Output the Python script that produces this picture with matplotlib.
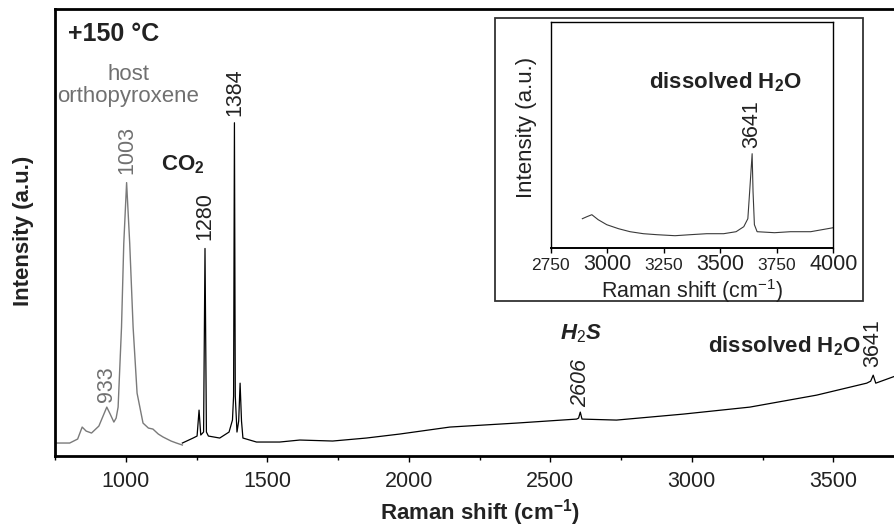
import matplotlib
matplotlib.use("Agg")
import matplotlib.pyplot as plt
from matplotlib.patches import Rectangle

plt.rcParams["font.family"] = ["Liberation Sans", "DejaVu Sans"]
plt.rcParams["mathtext.fontset"] = "custom"
plt.rcParams["mathtext.rm"] = "Liberation Sans"
plt.rcParams["mathtext.it"] = "Liberation Sans:italic"
plt.rcParams["mathtext.bf"] = "Liberation Sans:bold"

# host orthopyroxene part of the spectrum (grey)
wn_host = [749, 802, 830, 846, 860, 879, 905, 933, 945, 958, 966, 973, 985, 993,
           1003, 1014, 1026, 1040, 1061, 1080, 1096, 1115, 1132, 1160, 1179, 1200]
int_host = [13, 13, 17, 29, 25, 23, 30, 49, 42, 34, 38, 49, 129, 213,
            274, 213, 129, 63, 33, 28, 27, 22, 19, 15, 13, 11]

# fluid inclusion part (black)
wn_fluid = [1200, 1238, 1252, 1259, 1265, 1275, 1280, 1285, 1292, 1332, 1365, 1377,
            1381, 1384, 1387, 1393, 1399, 1404, 1409, 1414, 1462, 1544, 1615, 1731,
            1850, 1968, 2145, 2381, 2593, 2600, 2606, 2612, 2734, 2970, 3205, 3441,
            3618, 3632, 3641, 3650, 3718]
int_fluid = [13, 18, 20, 46, 21, 24, 208, 24, 20, 18, 24, 36,
             60, 334, 60, 24, 35, 73, 35, 18, 14, 14, 16, 15,
             18, 22, 29, 33, 37, 38, 44, 37, 36, 42, 49, 61,
             73, 75, 81, 73, 80]

# inset: OH stretching region
wn_inset = [2890, 2910, 2932, 2960, 2998, 3050, 3101, 3160, 3220, 3300, 3367, 3440,
            3515, 3570, 3604, 3622, 3630, 3641, 3645, 3651, 3663, 3740, 3811, 3900, 4000]
int_inset = [29, 31, 33, 28, 23, 19, 16, 14, 13, 12, 13, 14,
             14, 16, 21, 29, 56, 94, 56, 23, 16, 15, 16, 16, 20]

host_peaks = [933, 1003]
fluid_peaks = [1280, 1384, 2606, 3641]
inset_ticks = [2750, 3000, 3250, 3500, 3750, 4000]

grey = "#707070"

fig = plt.figure(figsize=(8.95, 5.28), dpi=100)
ax = fig.add_axes([55 / 895, 1 - 456 / 528, 840 / 895, 447 / 528])

ax.plot(wn_host, int_host, color="#7a7a7a", lw=1.0)
ax.plot(wn_fluid, int_fluid, color="black", lw=0.9)
ax.set_xlim(750, 3718)
ax.set_ylim(0, 448)

ax.spines["right"].set_visible(False)
for s in ["top", "left", "bottom"]:
    ax.spines[s].set_linewidth(2)
ax.set_yticks([])
ax.set_xticks([1000, 1500, 2000, 2500, 3000, 3500])
ax.set_xticks([750, 1250, 1750, 2250, 2750, 3250], minor=True)
ax.tick_params(axis="x", which="major", length=4.5, width=1, pad=6, labelsize=15.5,
               labelcolor="#222222")
ax.tick_params(axis="x", which="minor", length=3, width=1)

ax.text(0.506, -0.127, r"Raman shift (cm$^{\mathbf{-1}}$)", transform=ax.transAxes,
        ha="center", va="center", fontsize=16, fontweight="bold", color="#222222")
ax.text(-0.038, 0.503, "Intensity (a.u.)", transform=ax.transAxes, rotation=90,
        ha="center", va="center", fontsize=16, fontweight="bold", color="#222222")

# peak labels
offsets = {933: 4, 1003: 6, 1280: 6, 1384: 5, 2606: 4, 3641: 6}
for p in host_peaks:
    y = int_host[wn_host.index(p)]
    ax.annotate(str(p), xy=(p, y), xytext=(0, offsets[p]), textcoords="offset points",
                rotation=90, ha="center", va="bottom", fontsize=15.5, color=grey)
for p in fluid_peaks:
    y = int_fluid[wn_fluid.index(p)]
    ax.annotate(str(p), xy=(p, y), xytext=(0, offsets[p]), textcoords="offset points",
                rotation=90, ha="center", va="bottom", fontsize=15.5, color="#222222",
                style="italic" if p == 2606 else "normal")

ax.text(0.0155, 0.944, "+150 °C", transform=ax.transAxes, ha="left", va="center",
        fontsize=18, fontweight="bold", color="#222222")
ax.text(0.087, 0.828, "host\northopyroxene", transform=ax.transAxes, ha="center",
        va="center", fontsize=16, color=grey, linespacing=1.05)
ax.text(0.152, 0.651, r"CO$_{\mathbf{2}}$", transform=ax.transAxes, ha="center",
        va="center", fontsize=16, fontweight="bold", color="#222222")
ax.text(0.626, 0.273, r"H$_{\mathit{2}}$S", transform=ax.transAxes, ha="center",
        va="center", fontsize=16, fontweight="bold", style="italic", color="#222222")
ax.text(0.868, 0.246, r"dissolved H$_{\mathbf{2}}$O", transform=ax.transAxes,
        ha="center", va="center", fontsize=16, fontweight="bold", color="#222222")

# inset frame
fig.patches.append(Rectangle((495 / 895, 1 - 301 / 528), 368 / 895, 283 / 528,
                             transform=fig.transFigure, facecolor="white",
                             edgecolor="#333333", lw=1.3, zorder=5))

axi = fig.add_axes([550.7 / 895, 1 - 247.7 / 528, 282.6 / 895, 226 / 528], zorder=6)
axi.plot(wn_inset, int_inset, color="#3a3a3a", lw=0.8)
axi.set_xlim(2750, 4000)
axi.set_ylim(0, 226)
axi.set_yticks([])
for s in axi.spines.values():
    s.set_linewidth(1)
axi.spines["bottom"].set_linewidth(1.4)
axi.set_xticks(inset_ticks, [str(t) for t in inset_ticks])
axi.tick_params(axis="x", length=3.5, width=1, pad=12.5, labelcolor="#222222")
for i, lbl in enumerate(axi.get_xticklabels()):
    lbl.set_fontsize(15.5 if i % 2 else 12.5)
    lbl.set_verticalalignment("baseline")

axi.text(-0.0874, 0.53, "Intensity (a.u.)", transform=axi.transAxes, rotation=90,
         ha="center", va="center", fontsize=16, color="#222222")
axi.text(0.5, -0.19, r"Raman shift (cm$^{-1}$)", transform=axi.transAxes,
         ha="center", va="center", fontsize=15.5, color="#222222")
axi.text(0.617, 0.733, r"dissolved H$_{\mathbf{2}}$O", transform=axi.transAxes,
         ha="center", va="center", fontsize=16, fontweight="bold", color="#222222")
pk = int_inset[wn_inset.index(3641)]
axi.annotate("3641", xy=(3641, pk), xytext=(0, 4), textcoords="offset points",
             rotation=90, ha="center", va="bottom", fontsize=15.5, color="#222222")

fig.savefig("out.png", dpi=100)
